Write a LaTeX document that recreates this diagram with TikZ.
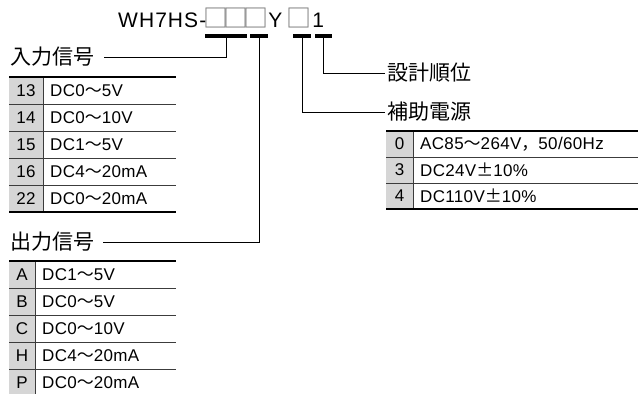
\documentclass[tikz,border=0pt]{standalone}
\usepackage{fontspec}
\setmainfont{Liberation Sans}
\newfontfamily\cjk{Noto Sans CJK JP}
\newfontfamily\tblfont[LetterSpace=2]{Liberation Sans}
\newfontfamily\ttlfont[LetterSpace=5]{Liberation Sans}
\newcommand\wdash{{\cjk 〜}}
\newcommand\pmsign{{\cjk ±}}
\newcommand\sqbox{\makebox[20pt][c]{\cjk\fontsize{25}{26}\selectfont\color{boxgray}□}}
\definecolor{cellgray}{RGB}{214,214,214}
\definecolor{rulegray}{RGB}{60,60,60}
\definecolor{boxgray}{RGB}{120,120,120}
\tikzset{
  lbl/.style={anchor=west, inner sep=0pt, font=\cjk\fontsize{21}{23}\selectfont},
  cell/.style={anchor=west, inner sep=0pt, font=\tblfont\fontsize{17}{19}\selectfont},
  code/.style={anchor=center, inner sep=0pt, font=\tblfont\fontsize{17}{19}\selectfont},
  rulethick/.style={line width=2.4pt},
  rulethin/.style={line width=0.9pt, rulegray},
  bar/.style={line width=3.2pt},
  conn/.style={line width=0.9pt}
}
\begin{document}
\begin{tikzpicture}[x=1pt,y=-1pt]
\useasboundingbox (0,0) rectangle (638,394);

% title
\node[anchor=base west, inner sep=0pt, font=\ttlfont\fontsize{21}{23}\selectfont] (title) at (118,27.5)
  {WH7HS-\sqbox\sqbox\sqbox\hspace{2pt}Y\hspace{7pt}\sqbox\hspace{3pt}1};

% bars under the code
\coordinate (b1a) at (205,36); \coordinate (b1b) at (247,36); \coordinate (b1) at (226,36);
\coordinate (b2a) at (250,36); \coordinate (b2b) at (268,36); \coordinate (b2) at (259,36);
\coordinate (b3a) at (293,36); \coordinate (b3b) at (311,36); \coordinate (b3) at (302,36);
\coordinate (b4a) at (315,36); \coordinate (b4b) at (332,36); \coordinate (b4) at (323,36);
\draw[bar] (b1a) -- (b1b);
\draw[bar] (b2a) -- (b2b);
\draw[bar] (b3a) -- (b3b);
\draw[bar] (b4a) -- (b4b);

% labels
\node[lbl] (lin) at (10,57) {入力信号};
\node[lbl] (lout) at (10,242) {出力信号};
\node[lbl] (ldes) at (387,73) {設計順位};
\node[lbl] (laux) at (387,112) {補助電源};

% connectors
\draw[conn] ([xshift=10pt]lin.east) -| (b1);
\draw[conn] ([xshift=9pt]lout.east) -| (b2);
\draw[conn] (b4) |- ([xshift=-2pt]ldes.west);
\draw[conn] (b3) |- ([xshift=-2pt]laux.west);

% table 1 : input signal
\fill[cellgray] (9,77) rectangle (43,212);
\draw[rulethin] (43,77) -- (43,212);
\foreach \y in {104,131,158,185} \draw[rulethin] (9,\y) -- (176,\y);
\draw[rulethick] (9,77) -- (176,77);
\draw[rulethick] (9,212) -- (176,212);
\foreach \c/\t [count=\i from 0] in {13/{DC0\wdash5V},14/{DC0\wdash10V},15/{DC1\wdash5V},16/{DC4\wdash20mA},22/{DC0\wdash20mA}}{
  \node[code] (ic\i) at (26,90.5+27*\i) {\c};
  \node[cell] (it\i) at (50,90.5+27*\i) {\t};
}

% table 2 : output signal
\fill[cellgray] (9,261) rectangle (35,394);
\draw[rulethin] (35,261) -- (35,394);
\foreach \y in {288,315,342,369} \draw[rulethin] (9,\y) -- (176,\y);
\draw[rulethick] (9,261) -- (176,261);
\foreach \c/\t [count=\i from 0] in {A/{DC1\wdash5V},B/{DC0\wdash5V},C/{DC0\wdash10V},H/{DC4\wdash20mA},P/{DC0\wdash20mA}}{
  \node[code] (oc\i) at (22,274.5+27*\i) {\c};
  \node[cell] (ot\i) at (42,274.5+27*\i) {\t};
}

% table 3 : auxiliary power
\fill[cellgray] (386,131) rectangle (413,209);
\draw[rulethin] (413,131) -- (413,209);
\foreach \y in {157,183} \draw[rulethin] (386,\y) -- (638,\y);
\draw[rulethick] (386,131) -- (638,131);
\draw[rulethick] (386,209) -- (638,209);
\foreach \c/\t [count=\i from 0] in {0/{AC85\wdash264V{\cjk ，}50/60Hz},3/{DC24V\pmsign10\%},4/{DC110V\pmsign10\%}}{
  \node[code] (pc\i) at (399.5,144+26*\i) {\c};
  \node[cell] (pt\i) at (420,144+26*\i) {\t};
}
\end{tikzpicture}
\end{document}
